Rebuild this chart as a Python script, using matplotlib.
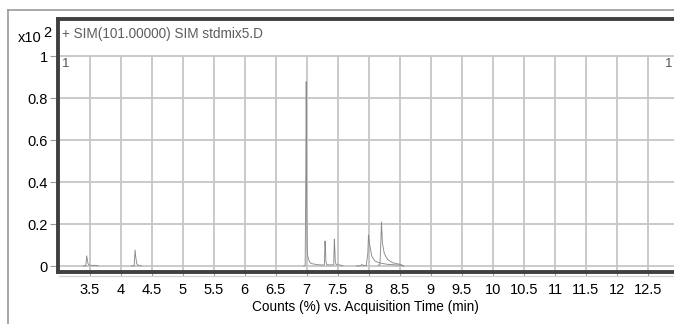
import matplotlib
matplotlib.use("Agg")
import matplotlib.pyplot as plt
from matplotlib.lines import Line2D
from matplotlib import font_manager

# フォント (細めのサンセリフがあればそれを使う)
names = {f.name for f in font_manager.fontManager.ttflist}
if "Liberation Sans Narrow" in names:
    fam = ["Liberation Sans Narrow", "DejaVu Sans"]
    fs = 11
    fs_lab = 11
else:
    fam = ["Liberation Sans", "DejaVu Sans"]
    fs = 10.5
    fs_lab = 9.8
plt.rcParams["font.family"] = fam

# クロマトグラムのデータ (図から読み取った値, x10^2 counts)
seg1_t = [3.40, 3.44, 3.455, 3.465, 3.475, 3.49, 3.52, 3.58, 3.63, 3.64]
seg1_y = [0.0, 0.001, 0.048, 0.030, 0.012, 0.005, 0.003, 0.003, 0.002, 0.0]

seg2_t = [4.18, 4.22, 4.235, 4.245, 4.26, 4.28, 4.32, 4.33]
seg2_y = [0.0, 0.002, 0.076, 0.045, 0.012, 0.004, 0.003, 0.0]

seg3_t = [6.95, 6.975, 6.985, 6.992, 7.0, 7.01, 7.03, 7.06, 7.10, 7.18, 7.25,
          7.285, 7.295, 7.302, 7.31, 7.325, 7.40, 7.435, 7.445, 7.452, 7.46,
          7.475, 7.55, 7.58]
seg3_y = [0.0, 0.002, 0.40, 0.878, 0.30, 0.06, 0.03, 0.014, 0.01, 0.006, 0.005,
          0.005, 0.119, 0.08, 0.02, 0.006, 0.005, 0.006, 0.128, 0.09, 0.02,
          0.006, 0.004, 0.0]

seg4a_t = [7.80, 7.87, 7.89, 7.91, 7.96, 7.985, 7.995, 8.01, 8.03, 8.05, 8.10,
           8.16, 8.22, 8.30, 8.40, 8.50, 8.56]
seg4a_y = [0.0, 0.002, 0.007, 0.002, 0.003, 0.06, 0.148, 0.11, 0.076, 0.045,
           0.024, 0.016, 0.012, 0.008, 0.006, 0.004, 0.0]

seg4b_t = [8.15, 8.18, 8.195, 8.205, 8.22, 8.25, 8.30, 8.38, 8.45, 8.51, 8.56]
seg4b_y = [0.004, 0.006, 0.12, 0.21, 0.108, 0.06, 0.032, 0.016, 0.011, 0.008, 0.0]

xticks = [3.5, 4, 4.5, 5, 5.5, 6, 6.5, 7, 7.5, 8, 8.5, 9, 9.5, 10, 10.5, 11, 11.5, 12, 12.5]
xtick_labels = ["3.5", "4", "4.5", "5", "5.5", "6", "6.5", "7", "7.5", "8", "8.5",
                "9", "9.5", "10", "10.5", "11", "11.5", "12", "12.5"]
yticks = [0, 0.2, 0.4, 0.6, 0.8, 1]
ytick_labels = ["0", "0.2", "0.4", "0.6", "0.8", "1"]

W, H = 674, 324
fig = plt.figure(figsize=(W / 100, H / 100), dpi=100)

# 軸の位置 (ピクセル)
left_px, top_px, bot_px = 57.5, 18.5, 272.0
ax = fig.add_axes([left_px / W, 1 - bot_px / H, 1 - left_px / W, (bot_px - top_px) / H])

x0_px, px_per_min = 89.5, 62.06
y0_px, px_per_unit = 266.0, 210.0
ax.set_xlim(3.5 - (x0_px - left_px) / px_per_min, 3.5 + (W - x0_px) / px_per_min)
ax.set_ylim(-(bot_px - y0_px) / px_per_unit, 1 + (y0_px - px_per_unit - top_px) / px_per_unit)

grid_c = "#c6c6c6"
ymin = ax.get_ylim()[0]
ax.vlines(xticks, ymin, 1.0, color=grid_c, lw=1.3, zorder=1)
for yv in yticks:
    ax.axhline(yv, color=grid_c, lw=1.3, zorder=1)

line_c = "#8a8a8a"
for t, y in [(seg1_t, seg1_y), (seg2_t, seg2_y), (seg3_t, seg3_y),
             (seg4a_t, seg4a_y), (seg4b_t, seg4b_y)]:
    ax.plot(t, y, color=line_c, lw=0.65, zorder=3)

ax.set_xticks(xticks)
ax.set_xticklabels(xtick_labels)
ax.set_yticks(yticks)
ax.set_yticklabels(ytick_labels)
ax.tick_params(axis="x", length=3, width=0.8, color="#999999", pad=5, labelsize=fs)
ax.tick_params(axis="y", length=6, width=0.8, color="#999999", pad=1, labelsize=fs)

for s in ["left", "top", "bottom"]:
    ax.spines[s].set_color("#404040")
    ax.spines[s].set_linewidth(2.8)
ax.spines["right"].set_visible(False)

ax.set_xlabel("Counts (%) vs. Acquisition Time (min)", fontsize=fs_lab, labelpad=2)

# 見出しなど
fig.text(62 / W, 1 - 34 / H, "+ SIM(101.00000) SIM stdmix5.D", fontsize=fs_lab,
         color="#5e5e5e", va="center", ha="left")
fig.text(62 / W, 1 - 64 / H, "1", fontsize=fs - 1, color="#555555", va="center")
fig.text(665 / W, 1 - 64 / H, "1", fontsize=fs - 1, color="#555555", va="center")
fig.text(18 / W, 1 - 38 / H, "x10", fontsize=fs, va="center")
fig.text(43 / W, 1 - 33 / H, "2", fontsize=fs, va="center")

# 外枠
fig.add_artist(Line2D([8 / W, 8 / W], [0, 1 - 10 / H], color="#9a9a9a", lw=1.2))
fig.add_artist(Line2D([8 / W, 1], [1 - 10 / H, 1 - 10 / H], color="#9a9a9a", lw=1.2))
fig.add_artist(Line2D([59 / W, 1], [1 - 275.5 / H, 1 - 275.5 / H], color="#d4d4d4", lw=1.0))

fig.savefig("out.png", dpi=100)
